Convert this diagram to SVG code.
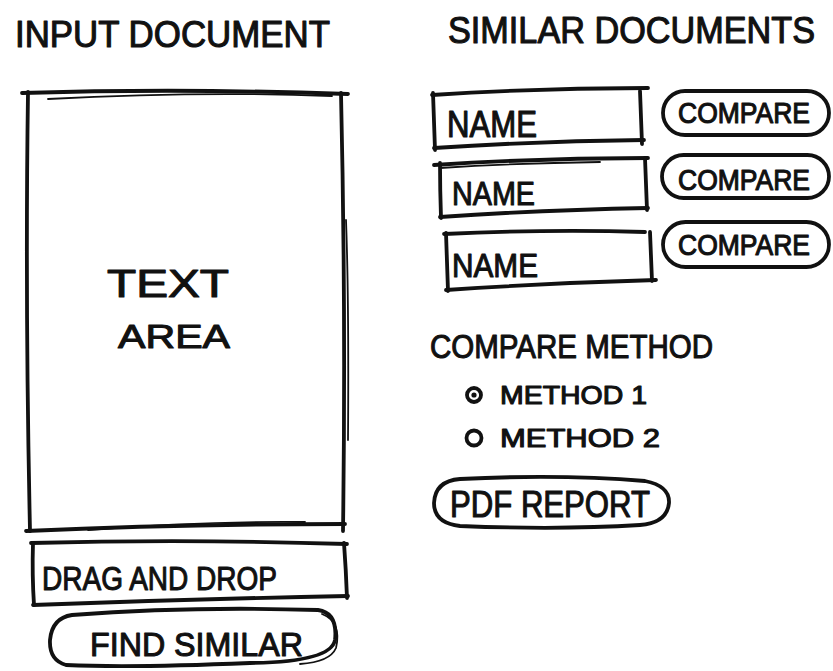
<svg xmlns="http://www.w3.org/2000/svg" width="833" height="671" viewBox="0 0 833 671">
  <style>
    .s { fill: none; stroke: #111; stroke-width: 3.8; stroke-linecap: round; stroke-linejoin: round; }
    .s2 { fill: none; stroke: #111; stroke-width: 1.8; stroke-linecap: round; stroke-linejoin: round; }
    .t { font-family: "Liberation Sans", Arial, sans-serif; fill: #111; stroke: #111; stroke-width: 1.1; stroke-linejoin: round; }
  </style>
  <rect width="833" height="671" fill="#ffffff"/>

  <!-- section headings -->
  <g id="heading-input">
    <text class="t" x="15" y="47" font-size="36" textLength="315" lengthAdjust="spacingAndGlyphs">INPUT DOCUMENT</text>
  </g>
  <g id="heading-similar">
    <text class="t" x="448" y="43" font-size="36" textLength="367" lengthAdjust="spacingAndGlyphs">SIMILAR DOCUMENTS</text>
  </g>

  <!-- large text area -->
  <g id="text-area">
    <path class="s" d="M22 93 Q180 88 348 94"/>
    <path class="s2" d="M48 99 Q200 91 332 96"/>
    <path class="s" d="M28 92 Q25 300 30 531"/>
    <path class="s" d="M341 93 Q346 310 343 531"/>
    <path class="s2" d="M346 220 Q349 300 348 440"/>
    <path class="s" d="M26 531 Q180 524 345 524"/>
    <path class="s2" d="M88 530 Q200 521 305 522"/>
    <text class="t" x="107" y="297" font-size="38" textLength="122" lengthAdjust="spacingAndGlyphs">TEXT</text>
    <text class="t" x="118" y="348" font-size="34" textLength="112" lengthAdjust="spacingAndGlyphs">AREA</text>
  </g>

  <!-- drop zone -->
  <g id="drag-drop">
    <path class="s" d="M31 543 Q190 539 347 544"/>
    <path class="s" d="M33 543 Q32 575 34 605"/>
    <path class="s" d="M344 543 Q346 570 347 598"/>
    <path class="s" d="M33 605 Q190 599 348 596"/>
    <text class="t" x="42" y="590" font-size="34" textLength="235" lengthAdjust="spacingAndGlyphs">DRAG AND DROP</text>
  </g>

  <!-- find similar button -->
  <g id="find-similar">
    <path class="s" d="M72 615 Q190 606 318 610 Q338 613 335 640 Q331 662 250 663 Q130 668 66 665 Q49 660 50 640 Q52 618 72 615 Z"/>
    <path class="s2" d="M322 614 Q342 622 336 648 Q330 662 300 664"/>
    <text class="t" x="90" y="656" font-size="34" textLength="213" lengthAdjust="spacingAndGlyphs">FIND SIMILAR</text>
  </g>

  <!-- result rows -->
  <g id="name-1">
    <path class="s" d="M432 95 Q540 88 648 88"/>
    <path class="s" d="M433 93 Q434 122 435 150"/>
    <path class="s" d="M640 91 Q641 118 642 144"/>
    <path class="s" d="M434 148 Q540 141 644 140"/>
    <text class="t" x="447" y="137" font-size="36" textLength="90" lengthAdjust="spacingAndGlyphs">NAME</text>
  </g>
  <g id="compare-1">
    <rect class="s" x="663" y="91" width="166" height="44" rx="22"/>
    <text class="t" x="678" y="123" font-size="29" textLength="132" lengthAdjust="spacingAndGlyphs">COMPARE</text>
  </g>

  <g id="name-2">
    <path class="s" d="M434 165 Q540 158 648 158"/>
    <path class="s2" d="M440 168 Q520 163 600 162"/>
    <path class="s" d="M440 163 Q440 190 441 218"/>
    <path class="s" d="M645 158 Q646 184 647 210"/>
    <path class="s" d="M440 217 Q540 210 648 208"/>
    <text class="t" x="452" y="205" font-size="34" textLength="83" lengthAdjust="spacingAndGlyphs">NAME</text>
  </g>
  <g id="compare-2">
    <rect class="s" x="662" y="155" width="167" height="43" rx="21.5"/>
    <text class="t" x="678" y="190" font-size="29" textLength="132" lengthAdjust="spacingAndGlyphs">COMPARE</text>
  </g>

  <g id="name-3">
    <path class="s" d="M444 234 Q550 229 645 232"/>
    <path class="s" d="M446 233 Q447 262 448 291"/>
    <path class="s" d="M650 232 Q651 256 652 281"/>
    <path class="s" d="M446 290 Q550 283 656 280"/>
    <text class="t" x="452" y="277" font-size="34" textLength="86" lengthAdjust="spacingAndGlyphs">NAME</text>
  </g>
  <g id="compare-3">
    <rect class="s" x="663" y="222" width="166" height="45" rx="22.5"/>
    <text class="t" x="678" y="255" font-size="29" textLength="132" lengthAdjust="spacingAndGlyphs">COMPARE</text>
  </g>

  <!-- comparison options -->
  <g id="compare-method">
    <text class="t" x="430" y="358" font-size="34" textLength="283" lengthAdjust="spacingAndGlyphs">COMPARE METHOD</text>
  </g>
  <g id="method-1">
    <circle class="s" cx="474" cy="395" r="7"/>
    <circle cx="474" cy="395" r="2.6" fill="#111"/>
    <text class="t" x="500" y="404" font-size="26" textLength="147" lengthAdjust="spacingAndGlyphs">METHOD 1</text>
  </g>
  <g id="method-2">
    <circle class="s" cx="474" cy="438" r="7.5"/>
    <text class="t" x="500" y="447" font-size="26" textLength="160" lengthAdjust="spacingAndGlyphs">METHOD 2</text>
  </g>

  <!-- report button -->
  <g id="pdf-report">
    <path class="s" d="M460 479 Q560 474 645 481 Q670 486 669 503 Q667 523 640 525 Q560 530 460 526 Q434 523 434 503 Q435 481 460 479 Z"/>
    <text class="t" x="450" y="517" font-size="36" textLength="200" lengthAdjust="spacingAndGlyphs">PDF REPORT</text>
  </g>

  <g id="connectors"/>
</svg>
